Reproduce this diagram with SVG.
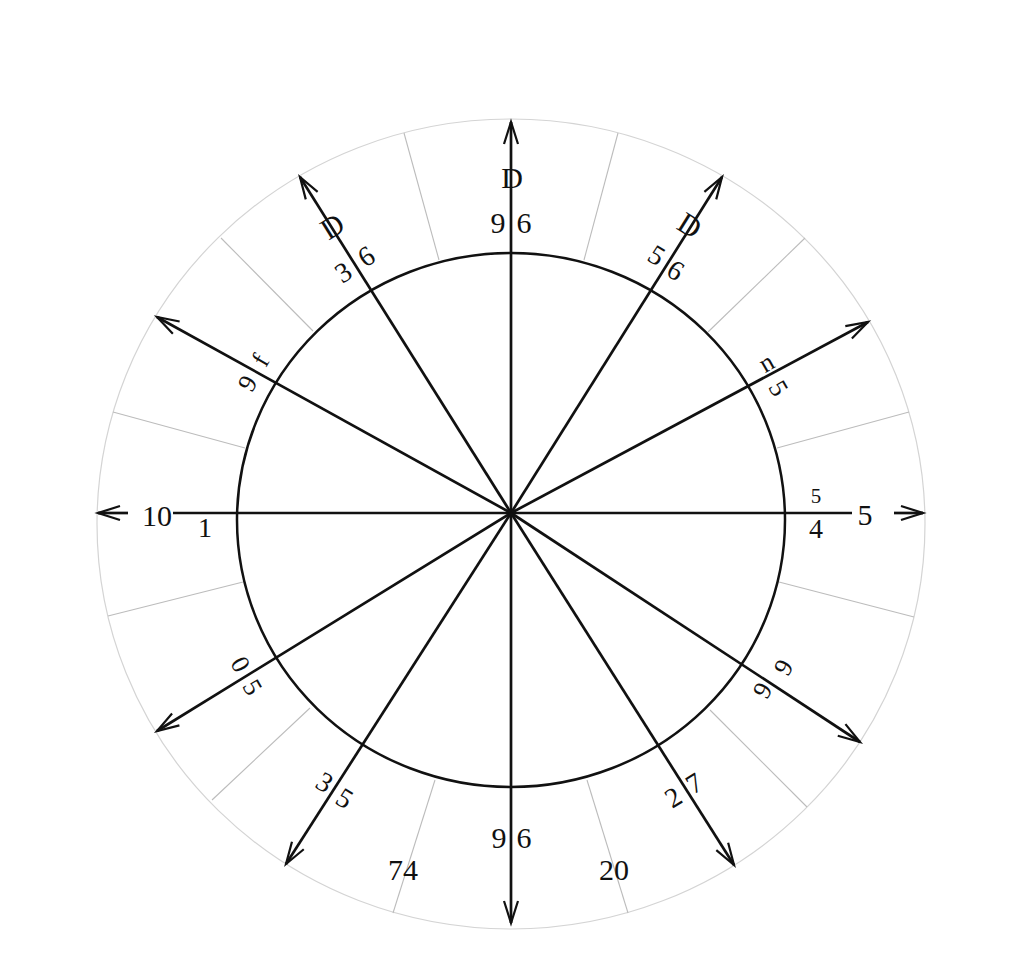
<svg xmlns="http://www.w3.org/2000/svg" width="1024" height="960" viewBox="0 0 1024 960">
<style>
.bg{fill:#ffffff}
.outer{fill:none;stroke:#d4d4d4;stroke-width:1.2}
.inner{fill:none;stroke:#111;stroke-width:2.5}
.faint{stroke:#bcbcbc;stroke-width:1.1}
.ray{stroke:#111;stroke-width:2.7;fill:none}
.lbl{font-family:"Liberation Serif","Times New Roman",serif;fill:#111;text-anchor:middle}
.b{font-size:30px}
.m{font-size:28px}
.s{font-size:26px}
.xs{font-size:21px}
</style>
<defs>
<marker id="arr" markerUnits="userSpaceOnUse" viewBox="-26 -12 30 24" refX="0" refY="0" markerWidth="30" markerHeight="24" orient="auto" overflow="visible">
<path d="M-22,-7 L0,0 L-22,7" fill="none" stroke="#111" stroke-width="2.2"/>
</marker>
</defs>
<rect class="bg" x="0" y="0" width="1024" height="960"/>
<g id="rings">
<ellipse class="outer" cx="511" cy="524" rx="414" ry="405"/>
<ellipse class="inner" cx="511" cy="520" rx="274" ry="267"/>
</g>
<g id="sectors">
<line class="faint" x1="439" y1="260" x2="404" y2="133"/>
<line class="faint" x1="584" y1="260" x2="618" y2="133"/>
<line class="faint" x1="313" y1="331" x2="221" y2="238"/>
<line class="faint" x1="708" y1="332" x2="805" y2="238"/>
<line class="faint" x1="245" y1="448" x2="113" y2="412"/>
<line class="faint" x1="777" y1="448" x2="909" y2="412"/>
<line class="faint" x1="243" y1="582" x2="108" y2="616"/>
<line class="faint" x1="779" y1="582" x2="914" y2="617"/>
<line class="faint" x1="310" y1="708" x2="212" y2="800"/>
<line class="faint" x1="710" y1="710" x2="807" y2="807"/>
<line class="faint" x1="435" y1="780" x2="393" y2="913"/>
<line class="faint" x1="587" y1="780" x2="628" y2="913"/>
</g>
<g id="connectors">
<line class="ray" x1="511" y1="513" x2="511" y2="122" marker-end="url(#arr)"/>
<line class="ray" x1="511" y1="513" x2="511" y2="923" marker-end="url(#arr)"/>
<line class="ray" x1="511" y1="513" x2="173" y2="513"/>
<line class="ray" x1="128" y1="513" x2="98" y2="513" marker-end="url(#arr)"/>
<line class="ray" x1="511" y1="513" x2="852" y2="513"/>
<line class="ray" x1="894" y1="513" x2="923" y2="513" marker-end="url(#arr)"/>
<line class="ray" x1="511" y1="513" x2="722" y2="177" marker-end="url(#arr)"/>
<line class="ray" x1="511" y1="513" x2="300" y2="177" marker-end="url(#arr)"/>
<line class="ray" x1="511" y1="513" x2="157" y2="317" marker-end="url(#arr)"/>
<line class="ray" x1="511" y1="513" x2="868" y2="322" marker-end="url(#arr)"/>
<line class="ray" x1="511" y1="513" x2="157" y2="731" marker-end="url(#arr)"/>
<line class="ray" x1="511" y1="513" x2="860" y2="742" marker-end="url(#arr)"/>
<line class="ray" x1="511" y1="513" x2="286" y2="864" marker-end="url(#arr)"/>
<line class="ray" x1="511" y1="513" x2="734" y2="865" marker-end="url(#arr)"/>
</g>
<g id="labels-top">
<text class="lbl b" x="512" y="177" dy="0.35em">D</text>
<text class="lbl b" x="498" y="222" dy="0.35em">9</text>
<text class="lbl b" x="524" y="222" dy="0.35em">6</text>
</g>
<g id="labels-bottom">
<text class="lbl b" x="499" y="837" dy="0.35em">9</text>
<text class="lbl b" x="524" y="837" dy="0.35em">6</text>
<text class="lbl b" x="403" y="869" dy="0.35em">74</text>
<text class="lbl b" x="614" y="869" dy="0.35em">20</text>
</g>
<g id="labels-ur60">
<text class="lbl b" transform="translate(690,225) rotate(32)" dy="0.35em">D</text>
<text class="lbl m" transform="translate(657,255) rotate(32)" dy="0.35em">5</text>
<text class="lbl m" transform="translate(676,270) rotate(32)" dy="0.35em">6</text>
</g>
<g id="labels-ul60">
<text class="lbl b" transform="translate(332,226) rotate(-32)" dy="0.35em">D</text>
<text class="lbl m" transform="translate(343,272) rotate(-32)" dy="0.35em">3</text>
<text class="lbl m" transform="translate(366,256) rotate(-32)" dy="0.35em">6</text>
</g>
<g id="labels-ul30">
<text class="lbl s" transform="translate(260,360) rotate(-60)" dy="0.35em">f</text>
<text class="lbl s" transform="translate(247,383) rotate(-60)" dy="0.35em">9</text>
</g>
<g id="labels-ur30">
<text class="lbl s" transform="translate(766,362) rotate(-30)" dy="0.35em">n</text>
<text class="lbl s" transform="translate(779,388) rotate(60)" dy="0.35em">5</text>
</g>
<g id="labels-left">
<text class="lbl b" x="157" y="515" dy="0.35em">10</text>
<text class="lbl m" x="205" y="527" dy="0.35em">1</text>
</g>
<g id="labels-right">
<text class="lbl xs" x="816" y="496" dy="0.35em">5</text>
<text class="lbl m" x="816" y="528" dy="0.35em">4</text>
<text class="lbl b" x="865" y="514" dy="0.35em">5</text>
</g>
<g id="labels-ll30">
<text class="lbl s" transform="translate(241,664) rotate(60)" dy="0.35em">0</text>
<text class="lbl s" transform="translate(253,687) rotate(60)" dy="0.35em">5</text>
</g>
<g id="labels-lr30">
<text class="lbl s" transform="translate(783,667) rotate(-60)" dy="0.35em">9</text>
<text class="lbl s" transform="translate(762,690) rotate(-60)" dy="0.35em">9</text>
</g>
<g id="labels-ll60">
<text class="lbl m" transform="translate(325,782) rotate(32)" dy="0.35em">3</text>
<text class="lbl m" transform="translate(345,798) rotate(32)" dy="0.35em">5</text>
</g>
<g id="labels-lr60">
<text class="lbl m" transform="translate(673,797) rotate(-32)" dy="0.35em">2</text>
<text class="lbl m" transform="translate(694,783) rotate(-32)" dy="0.35em">7</text>
</g>
</svg>
